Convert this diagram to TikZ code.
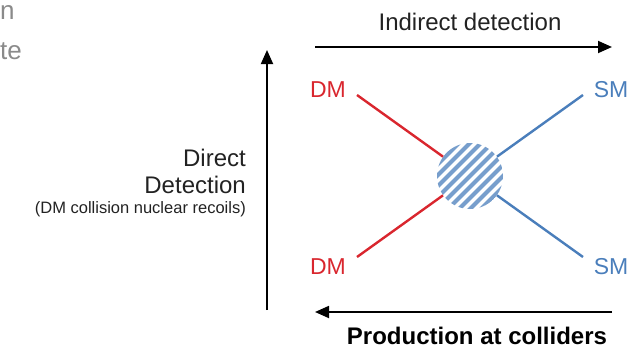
\documentclass[tikz,border=0pt]{standalone}
\usepackage{fontspec}
\setmainfont{Liberation Sans}
\usetikzlibrary{arrows.meta,positioning,calc}
\definecolor{dmred}{HTML}{D9262E}
\definecolor{smblue}{HTML}{4A7EBB}
\definecolor{slidegray}{HTML}{8A8A8A}
\definecolor{labelink}{HTML}{222222}
\tikzset{
  axis/.style={-{Triangle[length=14pt,width=12pt]},line width=1.8pt,draw=black},
  dmleg/.style={line width=2.4pt,draw=dmred},
  smleg/.style={line width=2.4pt,draw=smblue},
  particle/.style={inner sep=0pt,font=\fontsize{23}{27}\selectfont},
  caption/.style={inner sep=0pt,font=\fontsize{24}{28}\selectfont,text=labelink}
}
\begin{document}
\begin{tikzpicture}[x=1pt,y=-1pt]
  \useasboundingbox (0,0) rectangle (641,351);
  % cut-off slide text
  \node[caption,font=\fontsize{26}{30}\selectfont,text=slidegray,anchor=base west] (frag1) at (0,19) {n};
  \node[caption,font=\fontsize{26}{30}\selectfont,text=slidegray,anchor=base east] (frag2) at (22,59) {te};

  % interaction blob
  \node[circle,minimum size=66pt,inner sep=0pt] (blob) at (470,176) {};
  \begin{scope}
    \clip (blob.center) circle (33pt);
    \fill[white] (blob.center) circle (33pt);
    \foreach \k in {-8,...,8}
      \draw[smblue!75,line width=4pt] ($(blob.center)+(\k*11,0)+(-45,45)$) -- ++(90,-90);
  \end{scope}

  \node[particle,text=dmred] (dmin1) at (328,90) {DM};
  \node[particle,text=smblue] (smout1) at (611,90) {SM};
  \node[particle,text=dmred] (dmin2) at (328,267) {DM};
  \node[particle,text=smblue] (smout2) at (611,267) {SM};
  \coordinate (d1) at (357,95);
  \coordinate (d2) at (357,257);
  \coordinate (s1) at (583,95);
  \coordinate (s2) at (583,257);
  \draw[dmleg] (d1) -- (blob);
  \draw[dmleg] (d2) -- (blob);
  \draw[smleg] (s1) -- (blob);
  \draw[smleg] (s2) -- (blob);

  % detection channels
  \coordinate (itail) at (315,47);
  \coordinate (ihead) at (612,47);
  \draw[axis] (itail) -- (ihead);
  \node[caption] (indirect) at (470,22) {Indirect detection};

  \coordinate (dtail) at (267,310);
  \coordinate (dhead) at (267,50);
  \draw[axis] (dtail) -- (dhead);
  \node[caption,anchor=base east] (direct) at (246,166) {Direct};
  \node[caption,anchor=base east] (detect) at (246,193) {Detection};
  \node[caption,anchor=base east,font=\fontsize{16.5}{19}\selectfont] (recoil) at (246,213) {(DM collision nuclear recoils)};

  \coordinate (ptail) at (612,312);
  \coordinate (phead) at (315,312);
  \draw[axis] (ptail) -- (phead);
  \node[caption,font=\bfseries\fontsize{24}{28}\selectfont,text=black] (prod) at (477,336) {Production at colliders};
\end{tikzpicture}
\end{document}
